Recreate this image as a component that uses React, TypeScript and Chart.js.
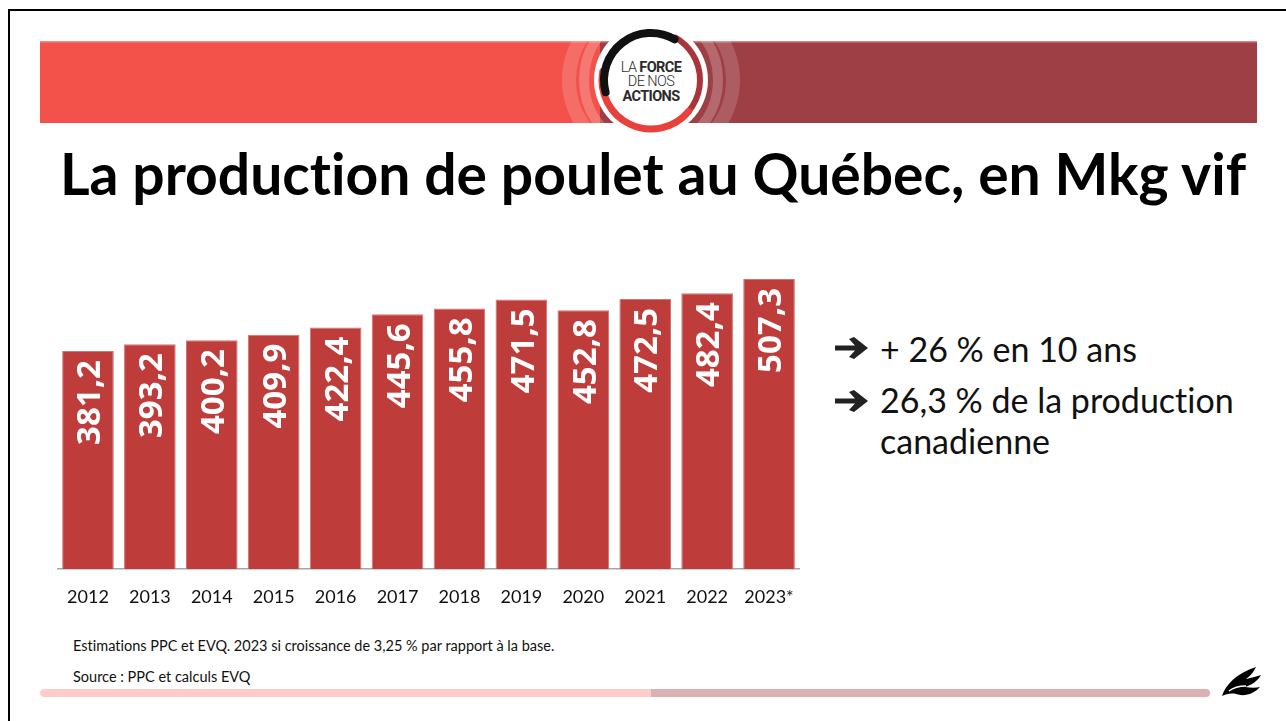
import React, { useEffect, useRef } from "react";
import { Chart, registerables } from "chart.js";

Chart.register(...registerables);

const years = ["2012", "2013", "2014", "2015", "2016", "2017", "2018", "2019", "2020", "2021", "2022", "2023*"];
const production = [381.2, 393.2, 400.2, 409.9, 422.4, 445.6, 455.8, 471.5, 452.8, 472.5, 482.4, 507.3];
const valueLabels = ["381,2", "393,2", "400,2", "409,9", "422,4", "445,6", "455,8", "471,5", "452,8", "472,5", "482,4", "507,3"];
const yMin = 0;
const yMax = 600;

const titleText = "La production de poulet au Québec, en Mkg vif";
const bulletOne = "+ 26 % en 10 ans";
const bulletTwoA = "26,3 % de la production";
const bulletTwoB = "canadienne";
const footnoteText = "Estimations PPC et EVQ. 2023 si croissance de 3,25 % par rapport à la base.";
const sourceText = "Source : PPC et calculs EVQ";

const BAR_COLOR = "#BE3C3A";
const FONT = "Lato, 'Open Sans', sans-serif";

const barLabelPlugin = {
  id: "barLabels",
  afterDatasetsDraw(chart: any) {
    const ctx = chart.ctx;
    const meta = chart.getDatasetMeta(0);
    const size = 33;
    ctx.save();
    ctx.fillStyle = "#ffffff";
    ctx.font = `bold ${size}px 'Open Sans', sans-serif`;
    ctx.textAlign = "right";
    ctx.textBaseline = "alphabetic";
    meta.data.forEach((bar: any, i: number) => {
      ctx.save();
      ctx.translate(bar.x, bar.y + 9);
      ctx.rotate(-Math.PI / 2);
      ctx.fillText(valueLabels[i], 0, size * 0.37);
      ctx.restore();
    });
    ctx.restore();
  },
};

function BarChart() {
  const ref = useRef<HTMLCanvasElement | null>(null);
  useEffect(() => {
    if (!ref.current) return;
    const chart = new Chart(ref.current, {
      type: "bar",
      data: {
        labels: years,
        datasets: [
          {
            data: production,
            backgroundColor: BAR_COLOR,
            borderColor: "#D27473",
            borderWidth: 1,
            barPercentage: 0.834,
            categoryPercentage: 1,
          },
        ],
      },
      options: {
        animation: false,
        responsive: false,
        maintainAspectRatio: false,
        layout: { padding: 0 },
        plugins: { legend: { display: false }, tooltip: { enabled: false } },
        scales: {
          x: {
            grid: { display: false, drawTicks: true, tickLength: 17, tickColor: "rgba(0,0,0,0)" },
            border: { display: true, color: "#A6A6A6", width: 1.5 },
            ticks: {
              color: "#111111",
              font: { family: FONT, size: 18 },
              padding: 0,
              maxRotation: 0,
              autoSkip: false,
            },
            afterFit(scale: any) {
              scale.height = 57;
              scale.paddingLeft = 0;
              scale.paddingRight = 0;
            },
          },
          y: {
            display: false,
            min: yMin,
            max: yMax,
          },
        },
      },
      plugins: [barLabelPlugin],
    });
    return () => chart.destroy();
  }, []);
  return (
    <canvas
      ref={ref}
      width={743}
      height={400}
      style={{ position: "absolute", left: 57, top: 226, width: 743, height: 400 }}
    />
  );
}

function Arrow({ x, y }: { x: number; y: number }) {
  return (
    <svg width={38} height={24} viewBox="0 0 38 24" style={{ position: "absolute", left: x, top: y }}>
      <path d="M2 9.5 L22 9.5 L16 3 L21 1 L35 12 L21 23 L16 21 L22 14.5 L2 14.5 Z" fill="#222" />
    </svg>
  );
}

function Logo() {
  const cx = 651;
  const cy = 80;
  const arc = (r: number, a0: number, a1: number) => {
    const p = (a: number) => [cx + r * Math.cos((a * Math.PI) / 180), cy + r * Math.sin((a * Math.PI) / 180)];
    const [x0, y0] = p(a0);
    const [x1, y1] = p(a1);
    const large = (a1 - a0 + 360) % 360 > 180 ? 1 : 0;
    return `M${x0} ${y0} A${r} ${r} 0 ${large} 1 ${x1} ${y1}`;
  };
  return (
    <svg width={1286} height={160} style={{ position: "absolute", left: 0, top: 0 }}>
      <defs>
        <clipPath id="bannerClip">
          <rect x={40} y={41} width={1217} height={82} />
        </clipPath>
      </defs>
      <rect x={40} y={41} width={560} height={82} fill="#F3524B" />
      <rect x={600} y={41} width={657} height={82} fill="#9E3F45" />
      <rect x={40} y={41} width={1217} height={1.5} fill="#F7B0AC" opacity={0.6} />
      <g clipPath="url(#bannerClip)">
        <ellipse cx={cx} cy={cy} rx={82} ry={80} fill="none" stroke="#ffffff" strokeOpacity={0.16} strokeWidth={14} />
        <ellipse cx={cx} cy={cy} rx={67} ry={70} fill="none" stroke="#ffffff" strokeOpacity={0.22} strokeWidth={10} />
      </g>
      <circle cx={cx} cy={cy} r={57} fill="#ffffff" />
      <path d={arc(49, 300, 60)} stroke="#A8353C" strokeWidth={6} fill="none" strokeLinecap="round" />
      <path d={arc(49, 40, 190)} stroke="#E8413B" strokeWidth={7} fill="none" strokeLinecap="round" />
      <path d={arc(47, 165, 300)} stroke="#111111" strokeWidth={8} fill="none" strokeLinecap="round" />
      <circle cx={cx} cy={cy} r={41} fill="#ffffff" />
      <text x={cx} y={72} textAnchor="middle" fontFamily="Roboto, sans-serif" fontSize={14.5} fill="#2b2b2b" letterSpacing={-0.6}>
        <tspan fontWeight={300}>LA </tspan>
        <tspan fontWeight={700}>FORCE</tspan>
      </text>
      <text x={cx} y={86} textAnchor="middle" fontFamily="Roboto, sans-serif" fontSize={14.5} fontWeight={300} fill="#2b2b2b" letterSpacing={-0.6}>
        DE NOS
      </text>
      <text x={cx} y={101} textAnchor="middle" fontFamily="Roboto, sans-serif" fontSize={14.5} fontWeight={700} fill="#2b2b2b" letterSpacing={-0.6}>
        ACTIONS
      </text>
    </svg>
  );
}

function Bird() {
  return (
    <svg width={44} height={34} viewBox="0 0 44 34" style={{ position: "absolute", left: 1220, top: 665 }}>
      <path
        d="M2 31 C6 19 17 8 36 2 C33 8 30 11 26 14 C32 13 37 11 41 10 C37 17 31 20 25 22 C31 23 36 23 40 22 C34 29 24 32 16 29 C11 28 6 29 2 31 Z"
        fill="#000"
      />
      <path d="M9 26 C14 22 19 21 26 21" stroke="#fff" strokeWidth={1.4} fill="none" />
    </svg>
  );
}

export default function App() {
  return (
    <div
      style={{
        position: "fixed",
        left: 0,
        top: 0,
        width: 1286,
        height: 721,
        background: "#ffffff",
        overflow: "hidden",
        fontFamily: FONT,
        fontVariantLigatures: "none",
      }}
    >
      <div
        style={{
          position: "absolute",
          left: 8,
          top: 9,
          width: 1300,
          height: 800,
          borderLeft: "2px solid #000",
          borderTop: "2px solid #000",
        }}
      />
      <Logo />
      <div
        style={{
          position: "absolute",
          left: 0,
          top: 133,
          width: 1306,
          textAlign: "center",
          fontFamily: FONT,
          fontWeight: 700,
          fontSize: 57,
          lineHeight: "80px",
          color: "#000",
          whiteSpace: "nowrap",
          fontVariantLigatures: "none",
        }}
      >
        {titleText}
      </div>
      <BarChart />
      <Arrow x={833} y={336} />
      <Arrow x={833} y={389} />
      <div style={{ position: "absolute", left: 880, top: 326, fontSize: 34, lineHeight: "46px", color: "#111", whiteSpace: "nowrap" }}>
        {bulletOne}
      </div>
      <div style={{ position: "absolute", left: 880, top: 379, fontSize: 34, lineHeight: "41px", color: "#111", whiteSpace: "nowrap" }}>
        {bulletTwoA}
        <br />
        {bulletTwoB}
      </div>
      <div style={{ position: "absolute", left: 73, top: 637, fontSize: 14.5, color: "#111", whiteSpace: "nowrap" }}>
        {footnoteText}
      </div>
      <div style={{ position: "absolute", left: 73, top: 668, fontSize: 14.5, color: "#111", whiteSpace: "nowrap" }}>
        {sourceText}
      </div>
      <div
        style={{
          position: "absolute",
          left: 40,
          top: 689,
          width: 1170,
          height: 8,
          borderRadius: 4,
          overflow: "hidden",
          display: "flex",
        }}
      >
        <div style={{ width: 611, height: 8, background: "#FFCCCC" }} />
        <div style={{ flex: 1, height: 8, background: "#DCB1B3" }} />
      </div>
      <Bird />
    </div>
  );
}
